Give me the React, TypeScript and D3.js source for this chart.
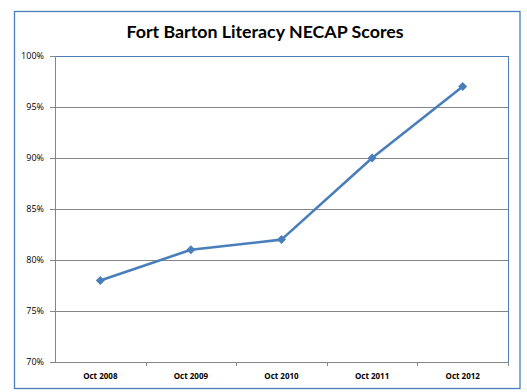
import React from 'react';
import * as d3 from 'd3';

const categories = ['Oct 2008', 'Oct 2009', 'Oct 2010', 'Oct 2011', 'Oct 2012'];
const scores = [78, 81, 82, 90, 97];
const yTicks = [70, 75, 80, 85, 90, 95, 100];

const App = () => {
  const width = 527;
  const height = 392;
  const plot = { left: 55, right: 508, top: 56, bottom: 362 };
  const blue = '#4a7ebb';
  const grid = '#868686';

  const x = d3.scaleBand<string>().domain(categories).range([plot.left, plot.right]);
  const y = d3.scaleLinear().domain([70, 100]).range([plot.bottom, plot.top]);

  const line = d3.line<number>()
    .x((_, i) => (x(categories[i]) as number) + x.bandwidth() / 2)
    .y((d) => y(d));

  // square-ish diamond like excel markers
  const diamond = 'M0,-4.5L4.5,0L0,4.5L-4.5,0Z';

  return (
    <svg width={width} height={height} style={{ position: 'absolute', left: 0, top: 0 }}>
      <rect x={0} y={0} width={width} height={height} fill="#fff" />
      <rect x={14.5} y={11.5} width={505.5} height={377} fill="#fff" stroke={blue} strokeWidth={1.3} />
      <text x={265} y={38} textAnchor="middle" fontFamily="Lato, 'Open Sans', sans-serif"
        fontWeight="bold" fontSize={17.8} fill="#000">
        Fort Barton Literacy NECAP Scores
      </text>

      {/* gridlines */}
      {yTicks.map((t) => (
        <line key={t} x1={plot.left - 5} x2={plot.right} y1={Math.round(y(t)) + 0.5} y2={Math.round(y(t)) + 0.5}
          stroke={t === 100 ? blue : grid} strokeWidth={1} />
      ))}
      <line x1={plot.right + 0.5} x2={plot.right + 0.5} y1={plot.top} y2={plot.bottom} stroke={blue} />
      <line x1={plot.left + 0.5} x2={plot.left + 0.5} y1={plot.top} y2={plot.bottom + 0.5} stroke={grid} />
      <line x1={plot.left - 5} x2={plot.left} y1={plot.top + 0.5} y2={plot.top + 0.5} stroke={grid} />

      {/* y labels */}
      {yTicks.map((t) => (
        <text key={t} x={44} y={y(t) + 3} textAnchor="end" fontFamily="'Open Sans', sans-serif"
          fontSize={9} fill="#000">
          {t}%
        </text>
      ))}

      {/* x ticks and labels */}
      {categories.map((c, i) => (
        <line key={'t' + i} x1={Math.round((x(c) as number) + x.bandwidth()) + 0.5}
          x2={Math.round((x(c) as number) + x.bandwidth()) + 0.5}
          y1={plot.bottom} y2={plot.bottom + 4} stroke={grid} />
      ))}
      {categories.map((c) => (
        <text key={c} x={(x(c) as number) + x.bandwidth() / 2} y={379} textAnchor="middle"
          fontFamily="'Open Sans', sans-serif" fontWeight="bold" fontSize={8} fill="#000">
          {c}
        </text>
      ))}

      {/* series */}
      <path d={line(scores) as string} fill="none" stroke={blue} strokeWidth={2.6} strokeLinejoin="round" />
      {scores.map((v, i) => (
        <path key={i} d={diamond} fill={blue}
          transform={`translate(${(x(categories[i]) as number) + x.bandwidth() / 2},${y(v)})`} />
      ))}
    </svg>
  );
};

export default App;
